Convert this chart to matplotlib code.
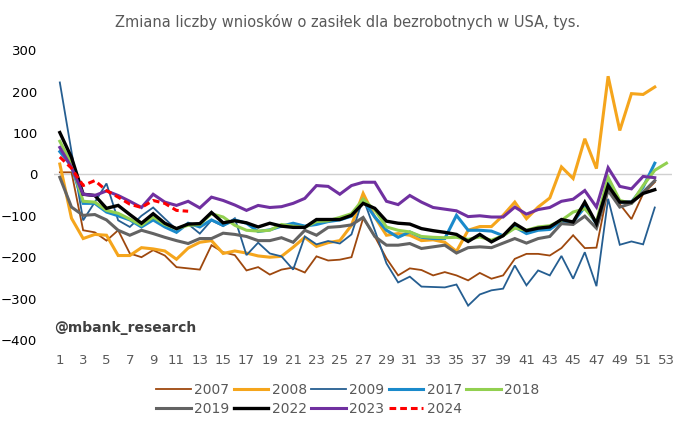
import numpy as np
import matplotlib.pyplot as plt

weeks = np.arange(1, 54)

y2007 = [5, 5, -135, -140, -160, -135, -191, -200, -183, -196, -224, -227, -230, -171, -188, -195,
         -232, -224, -242, -230, -225, -237, -198, -208, -206, -200, -106, -150, -203, -244, -227, -231,
         -244, -236, -244, -256, -238, -252, -244, -204, -192, -192, -196, -178, -147, -178, -177, -36,
         -72, -108, -47, -19]
y2008 = [25, -106, -155, -145, -147, -196, -196, -177, -180, -185, -205, -178, -164, -160, -191, -185,
         -190, -197, -200, -198, -176, -152, -174, -165, -160, -123, -46, -103, -147, -143, -147, -160,
         -158, -164, -186, -135, -126, -126, -99, -67, -107, -79, -57, 18, -10, 86, 14, 237,
         106, 195, 193, 211]
y2009 = [222, 55, -111, -67, -22, -111, -127, -100, -80, -107, -133, -120, -143, -111, -125, -106,
         -195, -165, -191, -198, -230, -150, -169, -161, -167, -145, -58, -135, -215, -261, -247, -271,
         -272, -273, -266, -317, -290, -280, -276, -220, -268, -232, -244, -197, -252, -188, -270, -59,
         -170, -162, -169, -80]
y2017 = [55, 20, -70, -70, -91, -100, -110, -127, -110, -127, -140, -118, -127, -110, -123, -110,
         -118, -138, -134, -125, -118, -125, -121, -114, -110, -101, -62, -103, -135, -152, -139, -152,
         -155, -155, -99, -135, -135, -137, -148, -127, -143, -135, -133, -113, -115, -79, -119, -19,
         -67, -67, -31, 27]
y2018 = [80, 25, -65, -67, -87, -94, -108, -123, -103, -121, -131, -123, -121, -95, -103, -123,
         -135, -137, -135, -121, -125, -128, -114, -112, -104, -95, -60, -86, -127, -135, -139, -150,
         -152, -153, -152, -157, -151, -159, -148, -130, -135, -127, -124, -111, -91, -83, -115, -7,
         -63, -70, -27, 10, 27]
y2019 = [-7, -79, -99, -97, -110, -135, -147, -135, -143, -152, -160, -167, -155, -155, -142, -145,
         -150, -160, -160, -153, -164, -135, -147, -128, -126, -122, -104, -150, -171, -171, -167, -179,
         -175, -171, -190, -177, -175, -177, -166, -155, -166, -155, -150, -119, -121, -101, -130, -39,
         -79, -70, -43, -15]
y2022 = [101, 41, -48, -51, -82, -75, -97, -118, -95, -118, -131, -120, -119, -92, -117, -112,
         -117, -127, -118, -125, -128, -128, -109, -109, -109, -99, -70, -82, -113, -118, -120, -131,
         -136, -140, -145, -162, -145, -163, -148, -119, -136, -130, -127, -109, -115, -67, -119, -27,
         -67, -67, -46, -37]
y2023 = [65, 17, -48, -51, -40, -51, -65, -80, -48, -67, -75, -65, -81, -55, -63, -74,
         -87, -75, -80, -78, -70, -58, -27, -29, -48, -27, -19, -19, -65, -73, -51, -67,
         -80, -84, -88, -102, -100, -103, -103, -79, -96, -85, -80, -65, -60, -39, -79, 16,
         -29, -35, -5, -8]
y2024 = [42, 15, -27, -15, -39, -55, -72, -80, -63, -70, -87, -89]

series = [
    ("2007", y2007, "#9E480E", 1.3, "-"),
    ("2008", y2008, "#F5A51C", 2.2, "-"),
    ("2009", y2009, "#255E91", 1.3, "-"),
    ("2017", y2017, "#1A8ACB", 2.2, "-"),
    ("2018", y2018, "#92D050", 2.2, "-"),
    ("2019", y2019, "#636363", 2.2, "-"),
    ("2022", y2022, "#000000", 2.4, "-"),
    ("2023", y2023, "#7030A0", 2.2, "-"),
    ("2024", y2024, "#FF0000", 2.2, (0, (2.2, 1.3))),
]

fig = plt.figure(figsize=(6.86, 4.25), dpi=100)
ax = fig.add_axes([0.0787, 0.2, 0.9013, 0.682])

lines = {}
for name, vals, col, lw, ls in series:
    lines[name], = ax.plot(weeks[:len(vals)], vals, color=col, lw=lw, ls=ls, label=name,
                           solid_joinstyle="miter")

ax.axhline(0, color="#D0D0D0", lw=1, zorder=0)
ax.set_xlim(0.5, 53.5)
ax.set_ylim(-400, 300)
ax.set_yticks(range(-400, 301, 100))
ax.set_xticks(range(1, 54, 2))
for s in ax.spines.values():
    s.set_visible(False)
ax.tick_params(axis="both", length=0)
ax.tick_params(axis="y", labelsize=9.5, labelcolor="#000000", pad=12)
ax.tick_params(axis="x", labelsize=9.5, labelcolor="#595959", pad=10)

fig.text(0.507, 0.948, "Zmiana liczby wniosków o zasiłek dla bezrobotnych w USA, tys.",
         ha="center", va="center", fontsize=10.5, color="#595959")
ax.text(0.0, 0.04, "@mbank_research", transform=ax.transAxes, fontsize=10,
        fontweight="bold", color="#404040", ha="left", va="center")

# legend fills column-wise, so interleave to get the two rows in order
order = ["2007", "2019", "2008", "2022", "2009", "2023", "2017", "2024", "2018"]
fig.legend([lines[k] for k in order], order, loc="center", bbox_to_anchor=(0.507, 0.06),
           ncol=5, frameon=False, fontsize=10, labelcolor="#595959", handlelength=2.5,
           handletextpad=0.25, columnspacing=0.3, labelspacing=0.35)

fig.savefig("out.png", dpi=100)
